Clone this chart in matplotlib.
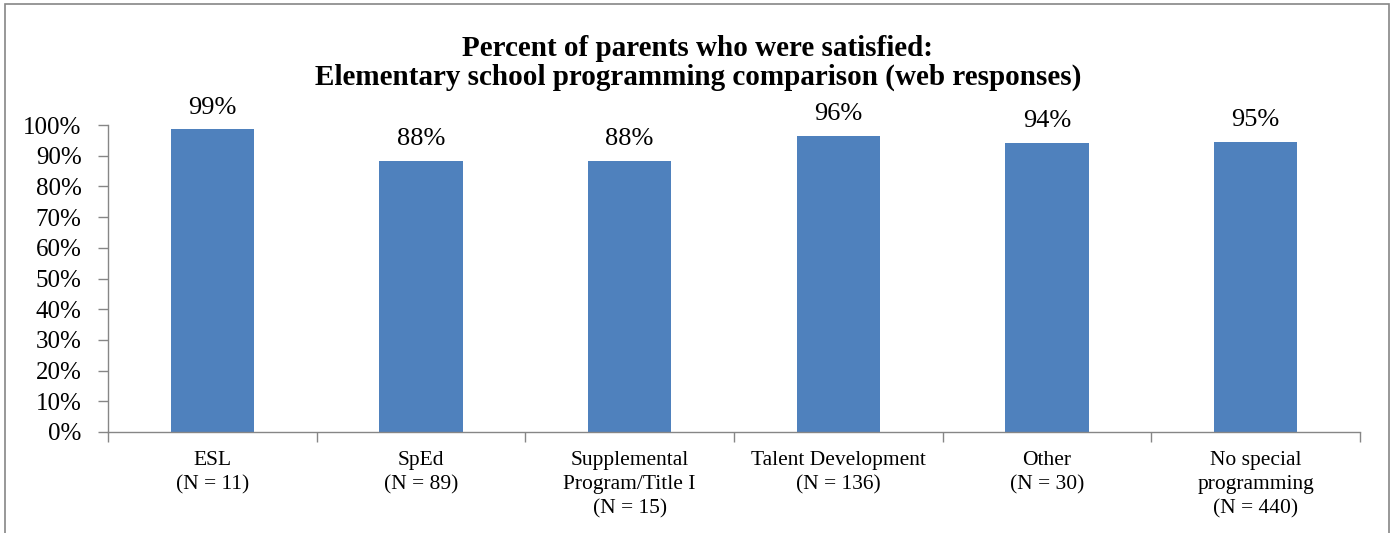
import matplotlib
matplotlib.use("Agg")
import matplotlib.pyplot as plt
from matplotlib.patches import Rectangle

# data
categories = [
    "ESL\n(N = 11)",
    "SpEd\n(N = 89)",
    "Supplemental\nProgram/Title I\n(N = 15)",
    "Talent Development\n(N = 136)",
    "Other\n(N = 30)",
    "No special\nprogramming\n(N = 440)",
]
satisfied = [98.6, 88.3, 88.2, 96.4, 94.1, 94.6]
y_ticks = [0, 10, 20, 30, 40, 50, 60, 70, 80, 90, 100]

plt.rcParams["font.family"] = ["Liberation Serif", "DejaVu Serif"]

fig = plt.figure(figsize=(13.9, 5.33), dpi=100)
ax = fig.add_axes([108 / 1390, 1 - 432 / 533, (1360 - 108) / 1390, (432 - 125) / 533])

x = list(range(len(categories)))
ax.bar(x, satisfied, width=0.4, color="#4F81BD", zorder=2)

for xi, v in zip(x, satisfied):
    ax.text(xi, v + 3.5, f"{v:.0f}%", ha="center", va="bottom", fontsize=19)

ax.set_xlim(-0.5, len(categories) - 0.5)
ax.set_ylim(0, 100)
ax.set_yticks(y_ticks)
ax.set_yticklabels([f"{t}%" for t in y_ticks], fontsize=18)

# category labels centred, ticks on the boundaries
ax.set_xticks(x)
ax.set_xticklabels(categories, fontsize=15.5, linespacing=1.33)
ax.tick_params(axis="x", length=0, pad=14)
ax.set_xticks([i - 0.5 for i in range(len(categories) + 1)], minor=True)
ax.tick_params(axis="x", which="minor", length=7, color="#868686", width=1)
ax.tick_params(axis="y", length=7, color="#868686", width=1, pad=12)

for side in ["top", "right"]:
    ax.spines[side].set_visible(False)
for side in ["left", "bottom"]:
    ax.spines[side].set_color("#868686")
    ax.spines[side].set_linewidth(1)

fig.text(0.502, 1 - 63 / 533, "Percent of parents who were satisfied:\nElementary school programming comparison (web responses)",
         ha="center", va="center", fontsize=21, fontweight="bold", linespacing=1.1)

# chart frame
fig.add_artist(Rectangle((5 / 1390, -0.1), 1384 / 1390, 1.1 - 4 / 533, transform=fig.transFigure,
                         fill=False, edgecolor="#868686", linewidth=1.2))

fig.savefig("out.png", dpi=100, facecolor="white")
